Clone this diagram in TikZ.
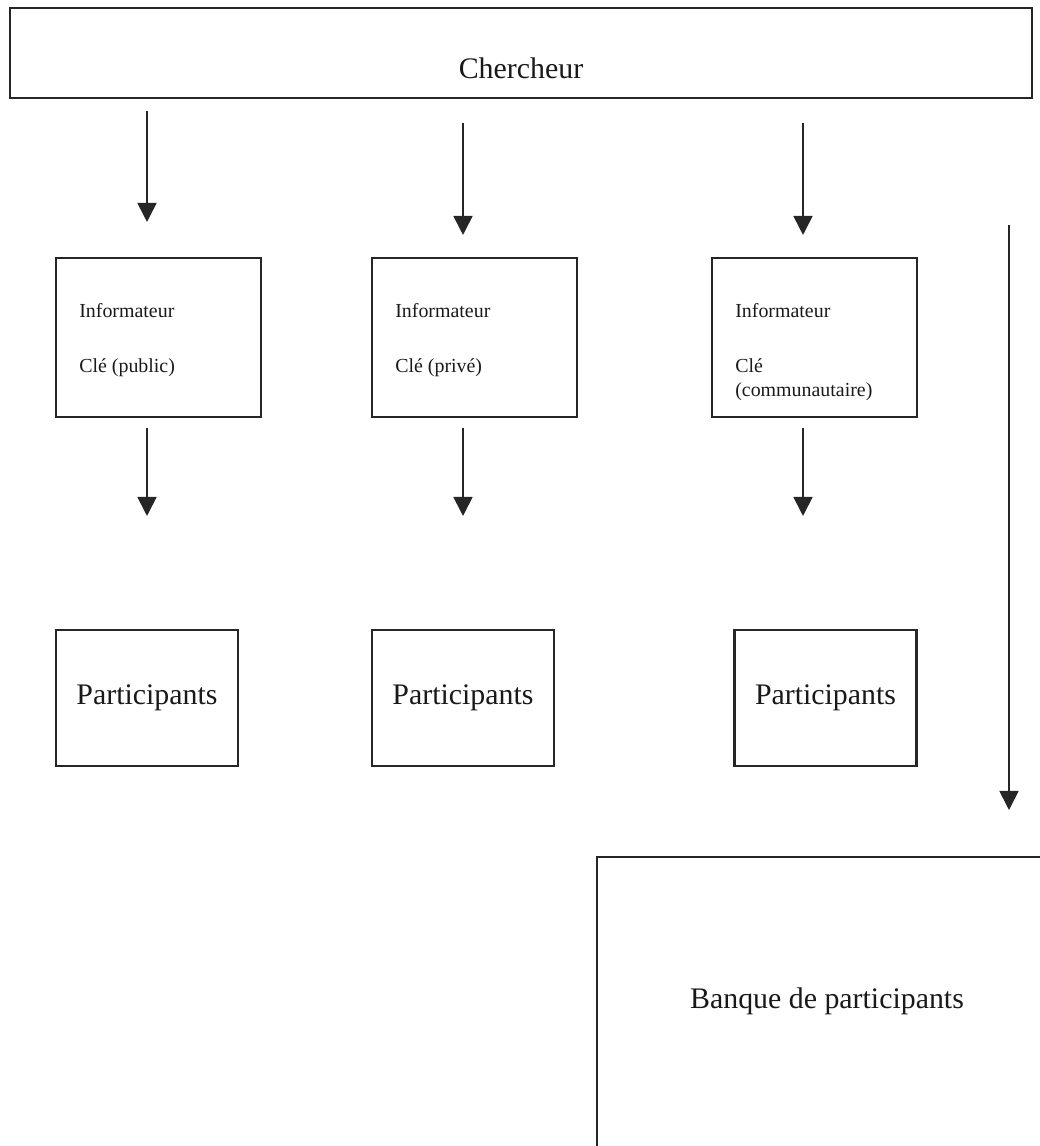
\documentclass[tikz,border=0pt]{standalone}
\usepackage{fontspec}
\setmainfont{Liberation Serif}
\usetikzlibrary{arrows.meta}

\begin{document}
\begin{tikzpicture}[
    x=0.02cm,
    y=-0.02cm,
    box/.style={
        rectangle,
        draw=black!85,
        line width=1.2pt,
        inner sep=0pt
    },
    bigtext/.style={
        font=\fontsize{17}{20}\selectfont,
        text=black!90
    },
    infotext/.style={
        anchor=north west,
        inner sep=0pt,
        xshift=0.48cm,
        yshift=-0.93cm,
        align=left,
        text=black!90,
        font=\fontsize{11.33}{13.6}\selectfont
    },
    infobox/.style={
        box,
        minimum width=4.1cm,
        minimum height=3.18cm,
        label={[infotext]north west:#1}
    },
    partbox/.style={
        box,
        bigtext,
        minimum width=3.64cm,
        minimum height=2.72cm
    },
    arrow/.style={
        -{Triangle[length=0.38cm,width=0.38cm]},
        line width=1pt,
        draw=black!85
    }
]

\clip[use as bounding box] (0,0) rectangle (1040,1146);

\node[box, minimum width=20.44cm, minimum height=1.8cm,
    label={[bigtext, yshift=-0.296cm]center:Chercheur}] (chercheur) at (521,53) {};

\node[infobox={Informateur\\[17.5pt]Clé (public)}] (inf1) at (158.5,337.5) {};
\node[infobox={Informateur\\[17.5pt]Clé (privé)}] (inf2) at (474.5,337.5) {};
\node[infobox={Informateur\\[17.5pt]Clé\\(communautaire)}] (inf3) at (814.5,337.5) {};

\node[partbox] (part1) at (147,698) {Participants};
\node[partbox] (part2) at (463,698) {Participants};
\node[partbox] (part3) at (825.5,698) {Participants};

\node[box, minimum width=9.2cm, minimum height=6.26cm,
    label={[bigtext, yshift=0.25cm]center:Banque de participants}] (banque) at (827,1013.5) {};

\coordinate (rcol) at (1009,0);

\draw[arrow, shorten <=0.24cm, shorten >=0.70cm] ([xshift=-0.23cm]inf1.north |- chercheur.south) -- ([xshift=-0.23cm]inf1.north);
\draw[arrow, shorten <=0.48cm, shorten >=0.44cm] ([xshift=-0.23cm]inf2.north |- chercheur.south) -- ([xshift=-0.23cm]inf2.north);
\draw[arrow, shorten <=0.48cm, shorten >=0.44cm] ([xshift=-0.23cm]inf3.north |- chercheur.south) -- ([xshift=-0.23cm]inf3.north);

\draw[arrow, shorten <=0.2cm, shorten >=2.26cm] ([xshift=-0.23cm]inf1.south) -- ([xshift=-0.23cm]inf1.south |- part1.north);
\draw[arrow, shorten <=0.2cm, shorten >=2.26cm] ([xshift=-0.23cm]inf2.south) -- ([xshift=-0.23cm]inf2.south |- part2.north);
\draw[arrow, shorten <=0.2cm, shorten >=2.26cm] ([xshift=-0.23cm]inf3.south) -- ([xshift=-0.23cm]inf3.south |- part3.north);

\draw[arrow, shorten <=2.52cm, shorten >=0.92cm] (rcol |- chercheur.south) -- (rcol |- banque.north);

\end{tikzpicture}
\end{document}
